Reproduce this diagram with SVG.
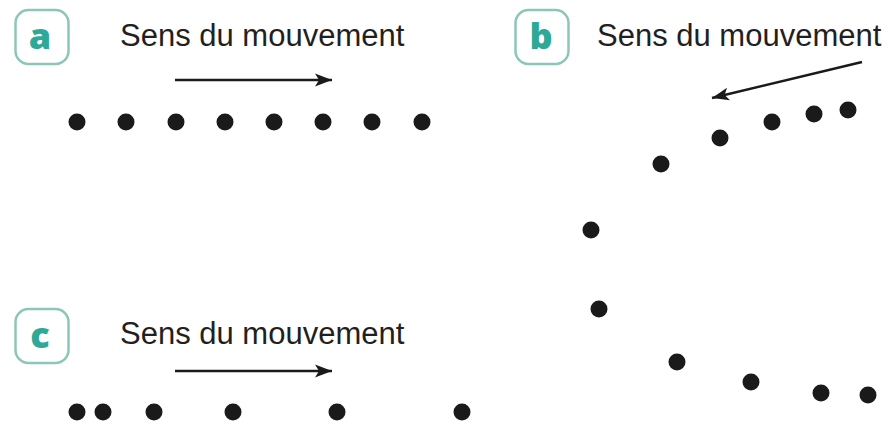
<svg xmlns="http://www.w3.org/2000/svg" width="892" height="424" viewBox="0 0 892 424">
<style>
.badge{fill:#fff;stroke:#8cc6b9;stroke-width:2.5}
.letter{font-family:"Open Sans",sans-serif;font-weight:800;font-size:36px;fill:#2ea897;text-anchor:middle}
.label{font-family:"Liberation Sans",Arial,sans-serif;font-size:31px;fill:#231f20}
.dot{fill:#1a1a1a}
.arrow{stroke:#1a1a1a;stroke-width:2.6;fill:none;marker-end:url(#ah)}
</style>
<defs>
<marker id="ah" markerUnits="userSpaceOnUse" markerWidth="20" markerHeight="14" refX="17" refY="7" orient="auto">
<path d="M0,0.5 L17,7 L0,13.5 L4,7 Z" fill="#1a1a1a"/>
</marker>
</defs>
<rect width="892" height="424" fill="#fff"/>
<g id="panel-a">
<rect class="badge" x="15.5" y="10" width="53" height="54" rx="13"/>
<text class="letter" x="40" y="49">a</text>
<text class="label" x="120" y="46">Sens du mouvement</text>
<g id="dots-a">
<circle class="dot" cx="77" cy="122" r="8.5"/>
<circle class="dot" cx="126" cy="122" r="8.5"/>
<circle class="dot" cx="176" cy="122" r="8.5"/>
<circle class="dot" cx="225" cy="122" r="8.5"/>
<circle class="dot" cx="274" cy="122" r="8.5"/>
<circle class="dot" cx="323" cy="122" r="8.5"/>
<circle class="dot" cx="372" cy="122" r="8.5"/>
<circle class="dot" cx="422" cy="122" r="8.5"/>
</g>
</g>
<g id="panel-b">
<rect class="badge" x="515.5" y="10" width="53" height="54" rx="13"/>
<text class="letter" x="541" y="49">b</text>
<text class="label" x="597" y="46">Sens du mouvement</text>
<g id="dots-b">
<circle class="dot" cx="848" cy="110" r="8.5"/>
<circle class="dot" cx="814" cy="114" r="8.5"/>
<circle class="dot" cx="772" cy="122" r="8.5"/>
<circle class="dot" cx="720" cy="138" r="8.5"/>
<circle class="dot" cx="661" cy="164" r="8.5"/>
<circle class="dot" cx="591" cy="230" r="8.5"/>
<circle class="dot" cx="599" cy="309" r="8.5"/>
<circle class="dot" cx="677" cy="362" r="8.5"/>
<circle class="dot" cx="751" cy="382" r="8.5"/>
<circle class="dot" cx="821" cy="393" r="8.5"/>
<circle class="dot" cx="868" cy="395" r="8.5"/>
</g>
</g>
<g id="panel-c">
<rect class="badge" x="15.5" y="309" width="53" height="54" rx="13"/>
<text class="letter" x="40" y="348">c</text>
<text class="label" x="120" y="344">Sens du mouvement</text>
<g id="dots-c">
<circle class="dot" cx="77" cy="412" r="8.5"/>
<circle class="dot" cx="103" cy="412" r="8.5"/>
<circle class="dot" cx="154" cy="412" r="8.5"/>
<circle class="dot" cx="233" cy="412" r="8.5"/>
<circle class="dot" cx="337" cy="412" r="8.5"/>
<circle class="dot" cx="462" cy="412" r="8.5"/>
</g>
</g>
<g id="connectors">
<line class="arrow" x1="175" y1="80" x2="332" y2="80"/>
<line class="arrow" x1="862" y1="62" x2="712" y2="98"/>
<line class="arrow" x1="175" y1="371" x2="332" y2="371"/>
</g>
</svg>
